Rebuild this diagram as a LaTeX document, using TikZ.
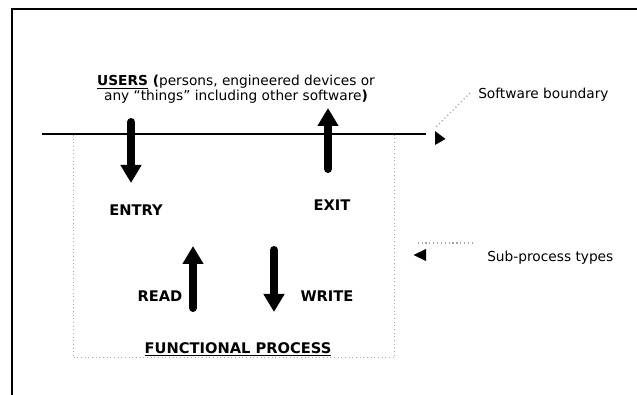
\documentclass[tikz,border=0pt]{standalone}
\usepackage{fontspec}
\setmainfont{DejaVu Sans}
\usetikzlibrary{arrows.meta}
\definecolor{dotgrey}{gray}{0.65}
\tikzset{
  frameline/.style={line width=1.5pt, black},
  boundline/.style={line width=1.5pt, black},
  boxline/.style={dotgrey, line width=0.75pt, dotted},
  pointer/.style={dotgrey, line width=0.9pt, dotted},
  blockarrow/.style={line width=6pt, line cap=round, -{Triangle[width=15pt,length=13.5pt]}},
  lbl/.style={font=\fontsize{11}{13}\selectfont\bfseries, inner sep=0pt},
  note/.style={font=\fontsize{10.3}{12}\selectfont, inner sep=0pt},
}
\begin{document}
\begin{tikzpicture}[x=0.75pt,y=-0.75pt]
\useasboundingbox (0,0) rectangle (637,395);
% outer frame (top and left)
\coordinate (ftr) at (637,9);
\coordinate (ftl) at (12,9);
\coordinate (fbl) at (12,395);
\draw[frameline] (ftr) -- (ftl) -- (fbl);
% functional process box
\coordinate (bxtl) at (73,135);
\coordinate (bxbr) at (394,358);
\draw[boxline] (bxtl) rectangle (bxbr);
% software boundary
\coordinate (bl) at (42,134);
\coordinate (br) at (426,134);
\draw[boundline] (bl) -- (br);
% users text
\node[note, align=center, font=\fontsize{10.3}{11.25}\selectfont] (users) at (236,89.5)
  {\textbf{\underline{USERS} (}persons, engineered devices or\\any “things” including other software\textbf{)}};
% arrows
\coordinate (entryA) at (131,122);
\coordinate (entryB) at (131,183);
\draw[blockarrow] (entryA) -- (entryB);
\coordinate (exitA) at (328,169);
\coordinate (exitB) at (328,108);
\draw[blockarrow] (exitA) -- (exitB);
\coordinate (readA) at (193,308);
\coordinate (readB) at (193,246);
\draw[blockarrow] (readA) -- (readB);
\coordinate (writeA) at (274,250);
\coordinate (writeB) at (274,312);
\draw[blockarrow] (writeA) -- (writeB);
% labels
\node[lbl] (entry) at (136,210) {ENTRY};
\node[lbl] (exit) at (332,205.5) {EXIT};
\node[lbl] (read) at (160,296) {READ};
\node[lbl] (write) at (327,296) {WRITE};
\node[lbl, fill=white, inner xsep=2pt, inner ysep=1pt] (fp) at (238,349) {\underline{FUNCTIONAL PROCESS}};
% notes
\node[note, anchor=west] (swb) at (478,95) {Software boundary};
\node[note, anchor=west] (spt) at (487,258) {Sub-process types};
% pointers
\coordinate (p1a) at (470,93);
\coordinate (p1b) at (436,127);
\draw[pointer] (p1a) -- (p1b);
\fill (435,131) -- (445.5,139) -- (435,145) -- cycle;
\coordinate (p2a) at (473,243);
\coordinate (p2b) at (417,243);
\draw[pointer] (p2a) -- (p2b);
\fill (426,249) -- (413.5,255) -- (426,261) -- cycle;
\end{tikzpicture}
\end{document}
